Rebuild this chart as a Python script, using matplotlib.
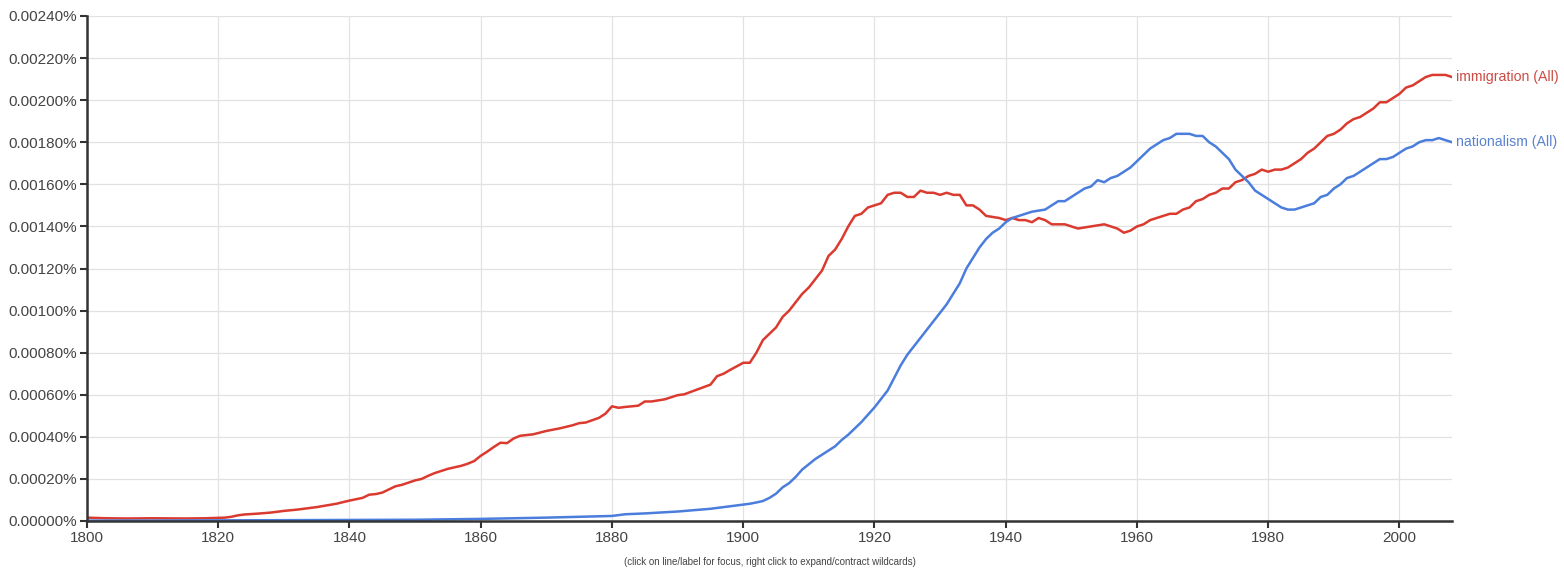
import matplotlib.pyplot as plt
from matplotlib.ticker import FuncFormatter, MultipleLocator

plt.rcParams['font.family'] = ['Liberation Sans', 'DejaVu Sans']

# values in percent
imm_years = [1800, 1803, 1806, 1810, 1815, 1818, 1820, 1821, 1822, 1823, 1824, 1826,
             1828, 1830, 1832, 1835, 1838, 1840, 1842, 1843, 1844, 1845, 1846, 1847,
             1848, 1850, 1851, 1852, 1853, 1855, 1857, 1858, 1859, 1860, 1861, 1862,
             1863, 1864, 1865, 1866, 1868, 1870, 1872, 1874, 1875, 1876, 1878, 1879,
             1880, 1881, 1882, 1884, 1885, 1886, 1888, 1889, 1890, 1891, 1893, 1895,
             1896, 1897, 1898, 1899, 1900, 1901, 1902, 1903, 1904, 1905, 1906, 1907,
             1908, 1909, 1910, 1911, 1912, 1913, 1914, 1915, 1916, 1917, 1918, 1919,
             1920, 1921, 1922, 1923, 1924, 1925, 1926, 1927, 1928, 1929, 1930, 1931,
             1932, 1933, 1934, 1935, 1936, 1937, 1939, 1940, 1941, 1942, 1943, 1944,
             1945, 1946, 1947, 1948, 1949, 1950, 1951, 1953, 1955, 1956, 1957, 1958,
             1959, 1960, 1961, 1962, 1963, 1964, 1965, 1966, 1967, 1968, 1969, 1970,
             1971, 1972, 1973, 1974, 1975, 1976, 1977, 1978, 1979, 1980, 1981, 1982,
             1983, 1984, 1985, 1986, 1987, 1988, 1989, 1990, 1991, 1992, 1993, 1994,
             1995, 1996, 1997, 1998, 1999, 2000, 2001, 2002, 2003, 2004, 2005, 2006,
             2007, 2008]
imm_vals = [0.000016, 0.000013, 0.000012, 0.000013, 0.000012, 0.000013, 0.000015, 0.000016, 0.00002, 0.000027, 0.000031, 0.000035,
            0.00004, 0.000048, 0.000054, 0.000066, 0.000082, 0.000097, 0.00011, 0.000125, 0.000128, 0.000135, 0.00015, 0.000165,
            0.000172, 0.000193, 0.0002, 0.000215, 0.000228, 0.000248, 0.000262, 0.000272, 0.000285, 0.00031, 0.00033, 0.000352,
            0.000372, 0.00037, 0.000392, 0.000405, 0.000412, 0.000428, 0.00044, 0.000455, 0.000465, 0.000468, 0.00049, 0.00051,
            0.000545, 0.000538, 0.000542, 0.000548, 0.000568, 0.000568, 0.000578, 0.000588, 0.000598, 0.000602, 0.000625, 0.000648,
            0.000688, 0.0007, 0.000718, 0.000735, 0.000752, 0.000752, 0.0008, 0.00086, 0.00089, 0.00092, 0.00097, 0.00100,
            0.00104, 0.00108, 0.00111, 0.00115, 0.00119, 0.00126, 0.00129, 0.00134, 0.00140, 0.00145, 0.00146, 0.00149,
            0.00150, 0.00151, 0.00155, 0.00156, 0.00156, 0.00154, 0.00154, 0.00157, 0.00156, 0.00156, 0.00155, 0.00156,
            0.00155, 0.00155, 0.00150, 0.00150, 0.00148, 0.00145, 0.00144, 0.00143, 0.00144, 0.00143, 0.00143, 0.00142,
            0.00144, 0.00143, 0.00141, 0.00141, 0.00141, 0.00140, 0.00139, 0.00140, 0.00141, 0.00140, 0.00139, 0.00137,
            0.00138, 0.00140, 0.00141, 0.00143, 0.00144, 0.00145, 0.00146, 0.00146, 0.00148, 0.00149, 0.00152, 0.00153,
            0.00155, 0.00156, 0.00158, 0.00158, 0.00161, 0.00162, 0.00164, 0.00165, 0.00167, 0.00166, 0.00167, 0.00167,
            0.00168, 0.00170, 0.00172, 0.00175, 0.00177, 0.00180, 0.00183, 0.00184, 0.00186, 0.00189, 0.00191, 0.00192,
            0.00194, 0.00196, 0.00199, 0.00199, 0.00201, 0.00203, 0.00206, 0.00207, 0.00209, 0.00211, 0.00212, 0.00212,
            0.00212, 0.00211]

nat_years = [1800, 1810, 1820, 1830, 1840, 1850, 1860, 1865, 1870, 1875, 1880, 1882,
             1885, 1890, 1895, 1898, 1900, 1901, 1902, 1903, 1904, 1905, 1906, 1907,
             1908, 1909, 1910, 1911, 1912, 1913, 1914, 1915, 1916, 1917, 1918, 1919,
             1920, 1921, 1922, 1923, 1924, 1925, 1926, 1927, 1928, 1929, 1930, 1931,
             1932, 1933, 1934, 1935, 1936, 1937, 1938, 1939, 1940, 1941, 1942, 1943,
             1944, 1946, 1947, 1948, 1949, 1950, 1951, 1952, 1953, 1954, 1955, 1956,
             1957, 1958, 1959, 1960, 1961, 1962, 1963, 1964, 1965, 1966, 1967, 1968,
             1969, 1970, 1971, 1972, 1973, 1974, 1975, 1976, 1977, 1978, 1979, 1980,
             1981, 1982, 1983, 1984, 1985, 1986, 1987, 1988, 1989, 1990, 1991, 1992,
             1993, 1994, 1995, 1996, 1997, 1998, 1999, 2000, 2001, 2002, 2003, 2004,
             2005, 2006, 2007, 2008]
nat_vals = [0.000002, 0.000002, 0.000003, 0.000004, 0.000005, 0.000006, 0.00001, 0.000013, 0.000016, 0.00002, 0.000024, 0.000032,
            0.000036, 0.000045, 0.000058, 0.00007, 0.000078, 0.000082, 0.000088, 0.000095, 0.00011, 0.00013, 0.00016, 0.00018,
            0.00021, 0.000245, 0.00027, 0.000295, 0.000315, 0.000335, 0.000355, 0.000385, 0.00041, 0.00044, 0.00047, 0.000505,
            0.00054, 0.00058, 0.00062, 0.00068, 0.00074, 0.00079, 0.00083, 0.00087, 0.00091, 0.00095, 0.00099, 0.00103,
            0.00108, 0.00113, 0.00120, 0.00125, 0.00130, 0.00134, 0.00137, 0.00139, 0.00142, 0.00144, 0.00145, 0.00146,
            0.00147, 0.00148, 0.00150, 0.00152, 0.00152, 0.00154, 0.00156, 0.00158, 0.00159, 0.00162, 0.00161, 0.00163,
            0.00164, 0.00166, 0.00168, 0.00171, 0.00174, 0.00177, 0.00179, 0.00181, 0.00182, 0.00184, 0.00184, 0.00184,
            0.00183, 0.00183, 0.00180, 0.00178, 0.00175, 0.00172, 0.00167, 0.00164, 0.00161, 0.00157, 0.00155, 0.00153,
            0.00151, 0.00149, 0.00148, 0.00148, 0.00149, 0.00150, 0.00151, 0.00154, 0.00155, 0.00158, 0.00160, 0.00163,
            0.00164, 0.00166, 0.00168, 0.00170, 0.00172, 0.00172, 0.00173, 0.00175, 0.00177, 0.00178, 0.00180, 0.00181,
            0.00181, 0.00182, 0.00181, 0.00180]

series = [
    ("immigration (All)", imm_years, imm_vals, "#db3a2f", "#cc4b44"),
    ("nationalism (All)", nat_years, nat_vals, "#4a7ddc", "#5a82d0"),
]

fig = plt.figure(figsize=(15.64, 5.71), dpi=100)
ax = fig.add_axes([87 / 1564, 50 / 571, (1452 - 87) / 1564, (521 - 16) / 571])

for label, xs, ys, color, tcolor in series:
    ax.plot(xs, ys, color=color, linewidth=1.8, solid_joinstyle="round")
    ax.annotate(label, xy=(xs[-1], ys[-1]), xytext=(3, 0), textcoords="offset points",
                va="center", ha="left", fontsize=10.2, color=tcolor, annotation_clip=False)

ax.set_xlim(1800, 2008)
ax.set_ylim(0, 0.0024)
ax.xaxis.set_major_locator(MultipleLocator(20))
ax.yaxis.set_major_locator(MultipleLocator(0.0002))
ax.yaxis.set_major_formatter(FuncFormatter(lambda v, p: f"{v:.5f}%"))

ax.grid(True, color="#e2e2e2", linewidth=0.9)
ax.set_axisbelow(True)
for side in ["top", "right"]:
    ax.spines[side].set_visible(False)
for side in ["left", "bottom"]:
    ax.spines[side].set_color("#333333")
    ax.spines[side].set_linewidth(1.8)
ax.tick_params(axis="both", colors="#333333", labelcolor="#444444", labelsize=11,
               length=5, width=1.5, pad=2)

fig.text(770 / 1564, 1 - 562 / 571, "(click on line/label for focus, right click to expand/contract wildcards)",
         ha="center", va="center", fontsize=7, color="#444444")

fig.savefig("out.png", dpi=100)
